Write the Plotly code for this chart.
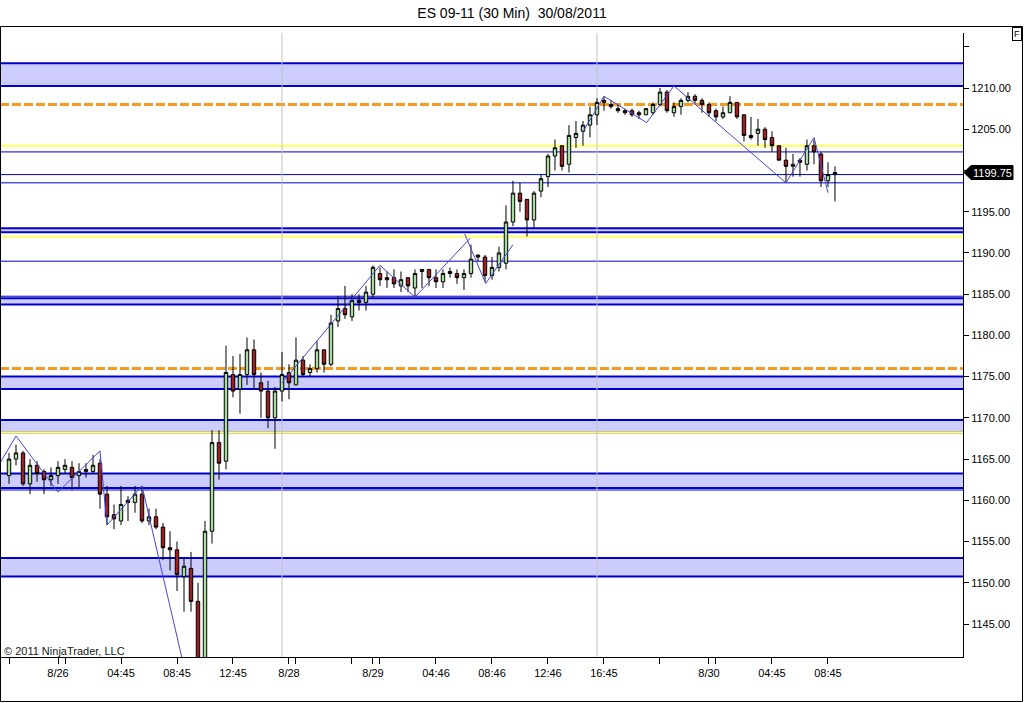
import plotly.graph_objects as go

# 30 min bars, ES 09-11, 26/08 - 30/08/2011
bar_idx = list(range(119))
opens = [1163.0, 1165.0, 1165.75, 1162.0, 1164.25, 1163.5, 1162.5, 1163.0, 1163.75, 1164.0,
         1163.0, 1163.75, 1163.5, 1164.5, 1160.75, 1158.25, 1157.5, 1160.0, 1159.75, 1160.75,
         1157.5, 1158.0, 1156.75, 1154.25, 1154.0, 1150.75, 1151.75, 1147.75, 1139.75, 1156.25,
         1167.0, 1164.75, 1175.25, 1173.5, 1175.25, 1178.25, 1174.25, 1173.25, 1170.0, 1173.25,
         1175.5, 1174.0, 1177.0, 1175.5, 1176.0, 1178.25, 1176.5, 1181.75, 1183.25, 1182.25,
         1184.25, 1184.0, 1185.0, 1187.5, 1187.0, 1187.0, 1186.0, 1187.0, 1185.75, 1187.75,
         1188.0, 1187.0, 1186.5, 1187.75, 1187.5, 1187.0, 1187.5, 1189.75, 1189.5, 1187.25,
         1188.25, 1188.75, 1193.75, 1197.25, 1196.5, 1194.0, 1197.5, 1199.25, 1201.75, 1203.0,
         1200.75, 1204.0, 1204.75, 1205.5, 1206.75, 1208.25, 1208.0, 1207.5, 1207.25, 1207.25,
         1207.0, 1206.75, 1207.0, 1208.0, 1209.5, 1207.0, 1207.75, 1208.5, 1209.0, 1208.5,
         1208.0, 1207.25, 1206.5, 1207.0, 1208.25, 1206.75, 1204.25, 1204.5, 1205.0, 1204.0,
         1203.0, 1201.25, 1200.5, 1201.25, 1200.75, 1203.0, 1202.0, 1198.75, 1199.5]
highs = [1165.75, 1166.75, 1166.0, 1165.0, 1164.75, 1163.75, 1164.0, 1164.75, 1165.0, 1164.75,
         1164.5, 1164.5, 1165.5, 1165.0, 1161.75, 1159.5, 1161.75, 1160.5, 1161.75, 1161.75,
         1159.0, 1159.0, 1157.25, 1156.25, 1155.0, 1153.0, 1153.75, 1150.0, 1157.5, 1168.5,
         1168.5, 1178.75, 1177.5, 1177.75, 1179.75, 1179.5, 1175.5, 1174.5, 1173.75, 1178.0,
         1176.5, 1179.75, 1177.5, 1176.5, 1179.25, 1178.25, 1182.5, 1184.75, 1186.0, 1185.0,
         1185.0, 1186.0, 1188.5, 1188.25, 1187.75, 1188.0, 1187.75, 1187.0, 1188.0, 1188.0,
         1188.0, 1188.0, 1188.0, 1188.25, 1188.0, 1188.0, 1191.0, 1189.75, 1189.75, 1189.5,
         1190.75, 1195.75, 1198.75, 1198.5, 1196.5, 1197.5, 1199.5, 1202.0, 1203.75, 1203.0,
         1205.5, 1206.0, 1206.0, 1207.75, 1208.75, 1209.0, 1208.5, 1208.0, 1207.5, 1207.5,
         1207.25, 1207.5, 1208.25, 1210.0, 1209.75, 1208.25, 1208.75, 1209.5, 1209.25, 1208.75,
         1208.25, 1207.5, 1207.75, 1209.0, 1208.25, 1206.75, 1206.5, 1206.25, 1205.25, 1204.75,
         1203.0, 1202.75, 1202.0, 1201.5, 1203.75, 1203.75, 1202.25, 1201.0, 1200.5]
lows = [1162.0, 1164.25, 1161.75, 1160.75, 1162.25, 1160.75, 1161.75, 1162.0, 1163.25, 1161.25,
        1161.5, 1162.75, 1163.25, 1159.0, 1157.0, 1156.5, 1157.0, 1157.5, 1158.5, 1157.25,
        1157.0, 1156.5, 1152.75, 1151.5, 1149.0, 1146.5, 1146.5, 1138.5, 1139.0, 1154.75,
        1162.5, 1163.75, 1172.5, 1170.5, 1174.0, 1173.5, 1170.0, 1168.75, 1166.25, 1172.0,
        1172.25, 1174.0, 1175.0, 1175.0, 1175.5, 1175.5, 1176.25, 1181.0, 1182.0, 1181.75,
        1183.0, 1183.0, 1184.5, 1186.0, 1185.75, 1185.75, 1185.25, 1185.25, 1184.75, 1185.75,
        1186.0, 1185.75, 1185.75, 1187.0, 1186.25, 1185.5, 1187.0, 1189.0, 1186.5, 1186.75,
        1187.75, 1188.0, 1193.25, 1195.0, 1192.0, 1193.0, 1196.75, 1198.0, 1200.0, 1200.0,
        1199.75, 1202.75, 1203.0, 1204.0, 1205.5, 1207.25, 1207.5, 1207.0, 1206.75, 1206.5,
        1206.25, 1206.75, 1206.75, 1207.75, 1207.0, 1206.5, 1206.75, 1208.25, 1208.0, 1207.0,
        1206.5, 1206.0, 1206.25, 1207.0, 1206.25, 1203.5, 1203.75, 1203.0, 1202.75, 1202.25,
        1201.25, 1198.5, 1199.25, 1199.25, 1200.0, 1200.75, 1198.0, 1198.0, 1196.25]
closes = [1165.0, 1165.75, 1162.0, 1164.25, 1163.25, 1162.5, 1163.0, 1164.0, 1164.25, 1162.75,
          1163.5, 1163.5, 1164.25, 1160.75, 1158.0, 1157.75, 1159.5, 1159.75, 1160.75, 1157.5,
          1158.0, 1156.75, 1154.25, 1154.0, 1151.0, 1152.0, 1147.75, 1139.5, 1156.25, 1167.0,
          1164.5, 1175.5, 1173.25, 1175.25, 1178.25, 1175.25, 1173.25, 1170.0, 1173.25, 1175.25,
          1174.25, 1177.0, 1175.25, 1176.0, 1178.25, 1176.5, 1181.5, 1183.25, 1182.5, 1184.25,
          1184.0, 1185.25, 1188.25, 1186.75, 1186.75, 1186.25, 1186.75, 1186.0, 1187.5, 1188.0,
          1187.0, 1186.5, 1187.5, 1187.5, 1187.0, 1187.5, 1189.25, 1189.5, 1187.25, 1188.25,
          1190.0, 1193.75, 1197.25, 1196.25, 1194.0, 1197.25, 1199.0, 1201.75, 1202.75, 1200.5,
          1204.25, 1204.5, 1205.5, 1206.75, 1208.25, 1208.5, 1207.75, 1207.25, 1207.0, 1206.75,
          1206.75, 1207.5, 1208.0, 1209.5, 1207.25, 1207.75, 1208.5, 1209.0, 1208.5, 1208.0,
          1207.0, 1206.5, 1207.0, 1208.25, 1206.5, 1204.25, 1204.0, 1205.0, 1203.75, 1203.0,
          1201.25, 1200.5, 1200.75, 1201.0, 1203.0, 1202.25, 1198.75, 1199.5, 1199.75]

# zigzag swing points (None = break between drawn pieces)
zz_x = [-1.3, 1, 7, 13, 14, 19, 27, None, 39, 53, 58, 65.9, None, 65.1, 68.1, 72, None,
        82, 85, 91.1, 95, 111, 115, 117]
zz_y = [1164.5, 1167.8, 1161.0, 1166.0, 1157.0, 1161.75, 1132.5, None, 1174.25, 1188.5,
        1184.65, 1191.8, None, 1192.3, 1186.3, 1191.0, None,
        1204.7, 1209.0, 1205.8, 1210.25, 1198.5, 1204.0, 1197.3]

# price levels
band_lo = [1210.25, 1192.5, 1183.75, 1173.5, 1168.25, 1161.5, 1150.75]
band_hi = [1213.0, 1193.0, 1184.5, 1175.0, 1169.75, 1163.25, 1153.0]
thin_lines = [1202.25, 1199.5, 1198.5, 1189.0, 1184.75, 1161.25]
yellow_lines = [1203.0, 1192.0, 1168.25]
orange_lines = [1208.0, 1176.0]
session_breaks = [39, 84]

x_tick_idx = [0, 7, 8, 16, 24, 32, 40, 41, 49, 52, 53, 61, 69, 77, 85, 93, 100, 101, 109, 117]
x_tick_text = ["", "8/26", "", "04:45", "08:45", "12:45", "8/28", "", "", "8/29", "",
               "04:46", "08:46", "12:46", "16:45", "", "8/30", "", "04:45", "08:45"]
y_tick_vals = [1145, 1150, 1155, 1160, 1165, 1170, 1175, 1180, 1185, 1190, 1195, 1200, 1205, 1210, 1215]
y_tick_text = ["1145.00", "1150.00", "1155.00", "1160.00", "1165.00", "1170.00", "1175.00",
               "1180.00", "1185.00", "1190.00", "1195.00", "", "1205.00", "1210.00", ""]

FONT = "Arial, Liberation Sans, sans-serif"
BLUE = "#0000cc"

fig = go.Figure()
fig.add_trace(go.Candlestick(
    x=bar_idx, open=opens, high=highs, low=lows, close=closes,
    increasing=dict(fillcolor="#a8dca0", line=dict(color="black", width=1)),
    decreasing=dict(fillcolor="#a01e1e", line=dict(color="black", width=1)),
    whiskerwidth=0, showlegend=False, hoverinfo="skip"))
fig.add_trace(go.Scatter(x=zz_x, y=zz_y, mode="lines", line=dict(color="#4646d2", width=1),
                         connectgaps=False, showlegend=False, hoverinfo="skip"))

shapes = []
for lo, hi in zip(band_lo, band_hi):
    shapes.append(dict(type="rect", xref="paper", x0=0, x1=1, yref="y", y0=lo, y1=hi,
                       fillcolor="#ccccff", line=dict(width=0), layer="below"))
    for lvl in (lo, hi):
        shapes.append(dict(type="line", xref="paper", x0=0, x1=1, yref="y", y0=lvl, y1=lvl,
                           line=dict(color=BLUE, width=2), layer="below"))
for lvl in thin_lines:
    shapes.append(dict(type="line", xref="paper", x0=0, x1=1, yref="y", y0=lvl, y1=lvl,
                       line=dict(color=BLUE, width=1), layer="below"))
for lvl in yellow_lines:
    shapes.append(dict(type="line", xref="paper", x0=0, x1=1, yref="y", y0=lvl, y1=lvl,
                       line=dict(color="#ffff55", width=2), layer="below"))
for lvl in orange_lines:
    shapes.append(dict(type="line", xref="paper", x0=0, x1=1, yref="y", y0=lvl, y1=lvl,
                       line=dict(color="#f49a1e", width=3, dash="9px,3px"), layer="below"))
for b in session_breaks:
    shapes.append(dict(type="line", xref="x", x0=b, x1=b, yref="paper", y0=0, y1=1,
                       line=dict(color="#c0c0c0", width=1), layer="below"))

# last price marker
shapes.append(dict(type="path", xref="paper", xsizemode="pixel", xanchor=1,
                   yref="y", ysizemode="pixel", yanchor=closes[-1],
                   path="M1,0 L8,7 L50,7 L50,-7 L8,-7 Z",
                   fillcolor="black", line=dict(color="black", width=1), layer="above"))
# outer frame
shapes.append(dict(type="rect", xref="paper", yref="paper",
                   x0=0.5 / 963, x1=1022.5 / 963, y0=(657 - 701.5) / 624, y1=(657 - 26.5) / 624,
                   line=dict(color="black", width=1), fillcolor="rgba(0,0,0,0)", layer="above"))

annotations = [
    dict(text=f"{closes[-1]:.2f}", xref="paper", x=1, xshift=29, xanchor="center",
         yref="y", y=closes[-1], yanchor="middle", showarrow=False,
         font=dict(family=FONT, size=11, color="white")),
    dict(text="F", xref="paper", x=1016.5 / 963, xanchor="center",
         yref="paper", y=(657 - 34.5) / 624, yanchor="middle", showarrow=False,
         font=dict(family=FONT, size=9, color="black"),
         bordercolor="black", borderwidth=1, borderpad=1, bgcolor="white"),
    dict(text="© 2011 NinjaTrader, LLC", xref="paper", x=0, xshift=2, xanchor="left",
         yref="paper", y=(657 - 651) / 624, yanchor="middle", showarrow=False,
         font=dict(family=FONT, size=11, color="#202020")),
]

fig.update_layout(
    width=1024, height=703,
    margin=dict(l=0, r=61, t=33, b=46),
    paper_bgcolor="white", plot_bgcolor="white",
    font=dict(family=FONT, size=11, color="black"),
    title=dict(text="ES 09-11 (30 Min) \u00a030/08/2011", xref="container", x=0.5,
               yref="container", y=1 - 13 / 703, xanchor="center", yanchor="middle",
               font=dict(family=FONT, size=14, color="black")),
    showlegend=False,
    shapes=shapes,
    annotations=annotations,
)
fig.update_xaxes(range=[-1.286, 136.29], tickmode="array", tickvals=x_tick_idx, ticktext=x_tick_text,
                 ticks="outside", ticklen=6, tickcolor="black", showline=True, linecolor="black",
                 linewidth=1, showgrid=False, zeroline=False, rangeslider_visible=False)
fig.update_yaxes(side="right", range=[1141.0, 1216.67], tickmode="array", tickvals=y_tick_vals,
                 ticktext=y_tick_text, ticks="outside", ticklen=5, tickcolor="black",
                 showline=True, linecolor="black", linewidth=1, showgrid=False, zeroline=False)

# page body has a default 8px margin; drop it so the figure sits at the window corner
fig.write_html("out.html", config={"displayModeBar": False},
               post_script="document.body.style.margin='0';")
